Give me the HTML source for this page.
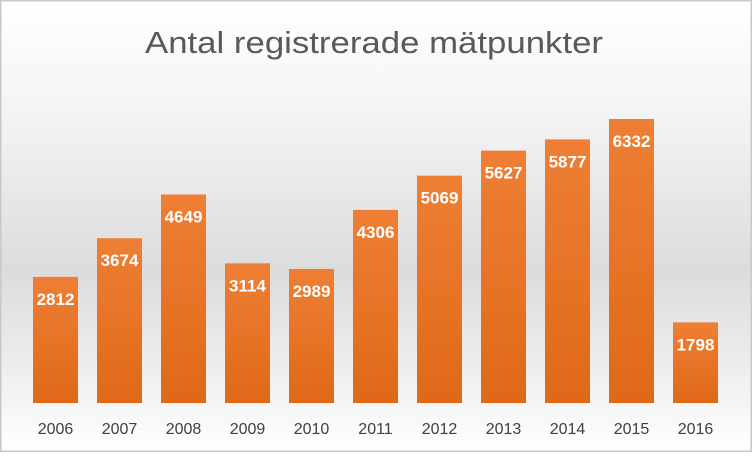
<!DOCTYPE html>
<html><head><meta charset="utf-8"><style>
body{margin:0;width:752px;height:452px;overflow:hidden;font-family:"Liberation Sans",sans-serif}
</style></head><body>
<svg width="752" height="452" xmlns="http://www.w3.org/2000/svg">
<defs>
<linearGradient id="bg" x1="0" y1="0" x2="0" y2="1">
<stop offset="0" stop-color="#ffffff"/><stop offset="0.25" stop-color="#f4f4f4"/>
<stop offset="0.6" stop-color="#dcdcdc"/><stop offset="0.82" stop-color="#eeeeee"/>
<stop offset="1" stop-color="#ffffff"/></linearGradient>
<linearGradient id="bar" x1="0" y1="0" x2="0" y2="1">
<stop offset="0" stop-color="#ee7f34"/><stop offset="1" stop-color="#e06818"/></linearGradient>
</defs>
<rect x="0" y="0" width="752" height="452" fill="url(#bg)" stroke="#c8c8c8" stroke-width="3"/>
<text x="374" y="53" text-anchor="middle" font-size="31" fill="#595959" textLength="458" lengthAdjust="spacingAndGlyphs">Antal registrerade mätpunkter</text>
<g id="bars"></g>
</svg>
<script>
const categories=["2006","2007","2008","2009","2010","2011","2012","2013","2014","2015","2016"];
const values=[2812,3674,4649,3114,2989,4306,5069,5627,5877,6332,1798];
const baseY=403,scale=284/6332,x0=33,step=64,bw=45;
const g=document.getElementById('bars');
const ns="http://www.w3.org/2000/svg";
function yOf(v){return baseY-v*scale;}
categories.forEach((c,i)=>{
  const x=x0+i*step;
  const r=document.createElementNS(ns,'rect');
  
  
  r.setAttribute('x',x);r.setAttribute('y',yOf(values[i]));
  r.setAttribute('width',bw);r.setAttribute('height',baseY-yOf(values[i]));
  r.setAttribute('fill','url(#bar)');
  g.appendChild(r);
  const t=document.createElementNS(ns,'text');
  
  
  t.setAttribute('x',x+bw/2);t.setAttribute('y',yOf(values[i])+28);
  t.setAttribute('text-anchor','middle');t.setAttribute('font-size','17');
  t.setAttribute('font-weight','bold');t.setAttribute('fill','#ffffff');
  t.textContent=values[i];
  g.appendChild(t);
  const l=document.createElementNS(ns,'text');
  
  
  l.setAttribute('x',x+bw/2);l.setAttribute('y',434);
  l.setAttribute('text-anchor','middle');l.setAttribute('font-size','16');
  l.setAttribute('fill','#404040');
  l.textContent=c;
  g.appendChild(l);
});
</script>
</body></html>
